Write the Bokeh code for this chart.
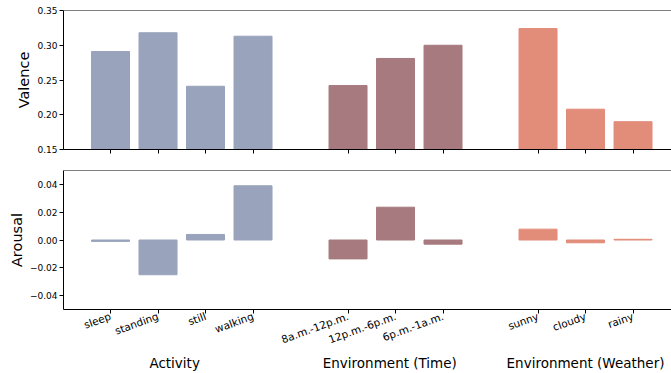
import math
from bokeh.plotting import figure
from bokeh.layouts import column
from bokeh.models import ColumnDataSource, FixedTicker, LinearAxis, Range1d, Span
from bokeh.embed import file_html
from bokeh.resources import INLINE

categories = ["sleep", "standing", "still", "walking",
              "8a.m.-12p.m.", "12p.m.-6p.m.", "6p.m.-1a.m.",
              "sunny", "cloudy", "rainy"]
positions = [0, 1, 2, 3, 5, 6, 7, 9, 10, 11]
groups = ["Activity"] * 4 + ["Time"] * 3 + ["Weather"] * 3
valence = [0.291, 0.318, 0.241, 0.313, 0.242, 0.281, 0.300, 0.324, 0.208, 0.190]
arousal = [-0.001, -0.025, 0.004, 0.039, -0.0136, 0.0236, -0.003, 0.0078, -0.002, 0.0005]
group_labels = ["Activity", "Environment (Time)", "Environment (Weather)"]
group_colors = {"Activity": "#99A3BB", "Time": "#A67A7E", "Weather": "#E28C7A"}

# label placement (layout)
group_label_x = [1.35, 5.88, 10.0]

colors = [group_colors[g] for g in groups]
src = ColumnDataSource(dict(x=positions, v=valence, a=arousal, c=colors))

FONT = "DejaVu Sans"
x_range = Range1d(-0.99, 11.81)


def style(p, ylabel, yticks, yfmt, ytop):
    p.xgrid.visible = False
    p.ygrid.visible = False
    p.outline_line_color = None
    p.add_layout(Span(location=ytop, dimension="width", line_color="black", line_width=1))
    p.yaxis.ticker = FixedTicker(ticks=yticks)
    p.yaxis.major_label_overrides = {t: yfmt(t) for t in yticks}
    p.yaxis.axis_label = ylabel
    p.yaxis.axis_label_text_font = FONT
    p.yaxis.axis_label_text_font_style = "normal"
    p.yaxis.axis_label_text_font_size = "14.5px"
    p.yaxis.axis_label_text_color = "black"
    p.yaxis.axis_label_standoff = 2
    p.yaxis.major_label_text_font = FONT
    p.yaxis.major_label_text_font_size = "9px"
    p.yaxis.major_label_text_color = "black"
    p.yaxis.major_label_standoff = 2
    p.yaxis.major_tick_out = 4
    p.yaxis.major_tick_in = 0
    p.yaxis.minor_tick_out = 0
    p.yaxis.minor_tick_in = 0
    p.yaxis.axis_line_color = "black"
    p.xaxis.ticker = FixedTicker(ticks=positions)
    p.xaxis.major_tick_out = 4
    p.xaxis.major_tick_in = 0
    p.xaxis.minor_tick_out = 0
    p.xaxis.minor_tick_in = 0
    p.xaxis.axis_line_color = "black"


def fmt_v(t):
    return "%.2f" % t


def fmt_a(t):
    s = "%.2f" % abs(t)
    return ("\u2212" + s) if t < 0 else s


top = figure(width=671, height=168, x_range=x_range, y_range=Range1d(0.15, 0.35),
             output_backend="svg", toolbar_location=None,
             min_border_left=63, min_border_right=0, min_border_top=10, min_border_bottom=19)
top.vbar(x="x", top="v", bottom=0.15, width=0.8, color="c", source=src)
style(top, "Valence", [0.15, 0.20, 0.25, 0.30, 0.35], fmt_v, 0.35)
top.xaxis.major_label_overrides = {q: "" for q in positions}
top.xaxis.major_label_standoff = 0

bot = figure(width=671, height=205, x_range=x_range, y_range=Range1d(-0.05, 0.05),
             output_backend="svg", toolbar_location=None,
             min_border_left=63, min_border_right=0, min_border_top=2, min_border_bottom=10)
bot.vbar(x="x", top="a", bottom=0, width=0.8, color="c", source=src)
style(bot, "Arousal", [-0.04, -0.02, 0.0, 0.02, 0.04], fmt_a, 0.05)
bot.xaxis.major_label_overrides = {q: c for q, c in zip(positions, categories)}
bot.xaxis.major_label_orientation = math.radians(20)
bot.xaxis.major_label_text_font = FONT
bot.xaxis.major_label_text_font_size = "10.5px"
bot.xaxis.major_label_text_color = "black"
bot.xaxis.major_label_standoff = 2

gaxis = LinearAxis(ticker=FixedTicker(ticks=group_label_x),
                   major_label_overrides={c: l for c, l in zip(group_label_x, group_labels)})
gaxis.axis_line_color = None
gaxis.major_tick_out = 0
gaxis.major_tick_in = 0
gaxis.minor_tick_out = 0
gaxis.minor_tick_in = 0
gaxis.major_label_standoff = 0
gaxis.major_label_text_font = FONT
gaxis.major_label_text_font_size = "13.5px"
gaxis.major_label_text_color = "black"
bot.add_layout(gaxis, "below")

p = column(top, bot, spacing=0)

open("out.html", "w").write(file_html(p, INLINE))
